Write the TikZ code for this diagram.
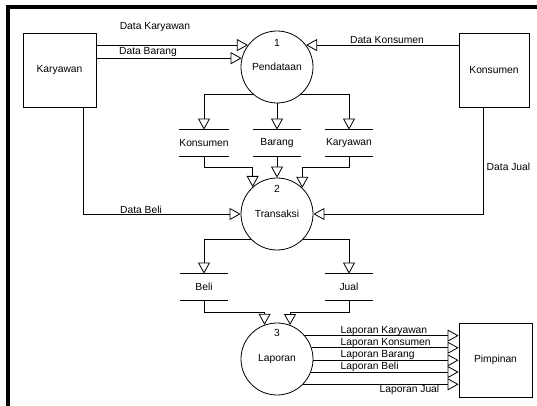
\documentclass[tikz,border=0pt]{standalone}
\usepackage{fontspec}
\setmainfont{Liberation Sans}
\usetikzlibrary{arrows.meta}
\tikzstyle{arrow} = [-{Triangle[open,length=11pt,width=12pt]}]
\tikzstyle{entity} = [draw, minimum width=72pt, minimum height=74pt, inner sep=0pt]
\tikzstyle{process} = [draw, circle, minimum size=72pt, inner sep=0pt]
\tikzstyle{store} = [minimum width=48pt, minimum height=26pt, inner sep=0pt]

\begin{document}
\begin{tikzpicture}[x=1pt, y=-1pt, line width=0.8pt, every node/.style={font=\fontsize{10.3}{12}\selectfont}]
		\useasboundingbox (0,0) rectangle (537,406);
		\fill (6,5) rectangle (537,9);
		\fill (6,5) rectangle (10,406);

		\node (kary) [entity, minimum width=73pt] at (59.5,70) {Karyawan};
		\node (kons) [entity, minimum width=70pt] at (494,70) {Konsumen};
		\node (pimp) [entity, minimum width=73pt] at (495.5,360) {Pimpinan};

		\node (pend) [process] at (277,67) {Pendataan};
		\node (pendno) at ([yshift=24pt]pend.center) {1};
		\node (trans) [process] at (277,214) {Transaksi};
		\node (transno) at ([yshift=25pt]trans.center) {2};
		\node (lap) [process] at (277,359) {Laporan};
		\node (lapno) at ([yshift=26pt]lap.center) {3};

		\node (skons) [store] at (204,143) {Konsumen};
		\node (sbar) [store] at (277,143) {Barang};
		\node (skary) [store] at (349,143) {Karyawan};
		\node (sbeli) [store] at (204,287) {Beli};
		\node (sjual) [store] at (349,287) {Jual};
		\foreach \s in {skons,sbar,skary,sbeli,sjual}
			\draw (\s.north west) -- (\s.north east) (\s.south west) -- (\s.south east);

		% masukan ke pendataan
		\draw [arrow] (pend.143 -| kary.east) -- (pend.143);
		\draw [arrow] (pend.166 -| kary.east) -- (pend.166);
		\draw [arrow] (pend.37 -| kons.west) -- (pend.37);
		\node (lkary) at (155,27) {Data Karyawan};
		\node (lbar) at (148,52) {Data Barang};
		\node (lkons) at (387,40) {Data Konsumen};

		\draw [arrow] (pend.229) -| (skons.north);
		\draw [arrow] (pend.south) -- (sbar.north);
		\draw [arrow] (pend.311) -| (skary.north);

		% transaksi
		\draw [arrow] (skons.south) -- ++(0,11) -| (trans.132);
		\draw [arrow] (sbar.south) -- (trans.north);
		\draw [arrow] (skary.south) -- ++(0,11) -| (trans.46);
		\draw [arrow] ([xshift=23.5pt]kary.south) |- (trans.west);
		\draw [arrow] ([xshift=-11pt]kons.south) |- (trans.east);
		\node (lbeli) at (141,210) {Data Beli};
		\node (ljual) [anchor=west] at (483,167) {Data Jual};

		\draw [arrow] (trans.224) -| (sbeli.north);
		\draw [arrow] (trans.316) -| (sjual.north);

		% laporan
		\draw [arrow] (sbeli.south) -- ++(0,12) -| (lap.110);
		\draw [arrow] (sjual.south) -- ++(0,12) -| (lap.69);

		\draw [arrow] (lap.40) -- (lap.40 -| pimp.west);
		\draw [arrow] (lap.18) -- (lap.18 -| pimp.west);
		\draw [arrow] (lap.358) -- (lap.358 -| pimp.west);
		\draw [arrow] (lap.339) -- (lap.339 -| pimp.west);
		\draw [arrow] (lap.316) -- (lap.316 -| pimp.west);
		\node (llkary) [anchor=west] at (337,331) {Laporan Karyawan};
		\node (llkons) [anchor=west] at (337,343) {Laporan Konsumen};
		\node (llbar) [anchor=west] at (337,355) {Laporan Barang};
		\node (llbeli) [anchor=west] at (337,367) {Laporan Beli};
		\node (lljual) [anchor=east] at (443,390) {Laporan Jual};
	\end{tikzpicture}
\end{document}
